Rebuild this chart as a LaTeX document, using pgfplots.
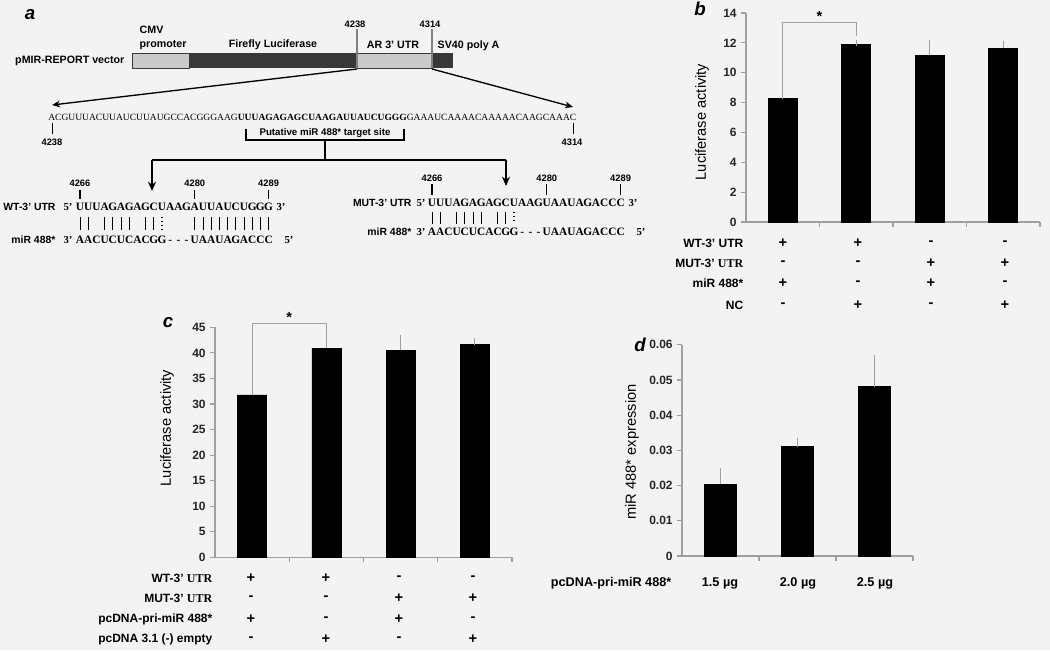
\documentclass[border=0pt]{standalone}
\usepackage{pgfplots}
\usepackage{pgfplotstable}
\pgfplotsset{compat=1.18}
\usepackage{fontspec}
\setmainfont{Liberation Sans}
\newfontfamily\serif{Liberation Serif}
\usetikzlibrary{arrows.meta}
\definecolor{bg}{HTML}{F3F3F3}
\definecolor{axgray}{HTML}{A0A0A0}
\definecolor{lightseg}{HTML}{CACACA}
\definecolor{darkseg}{HTML}{383838}
\newcommand{\fs}[1]{\fontsize{#1}{#1}\selectfont}

\pgfplotstableread{
x y e
0 8.30 0.14
1 11.92 0.08
2 11.18 0.78
3 11.63 0.29
}\bdata
\pgfplotstableread{
x y e
0 31.8 2.5
1 40.9 1.1
2 40.5 2.3
3 41.6 0.7
}\cdata
\pgfplotstableread{
x y e
0 0.0204 0.0036
1 0.0311 0.0016
2 0.0481 0.0080
}\ddata

\pgfplotsset{
 panel/.style={scale only axis, anchor=south west, clip=false,
   axis x line*=bottom, axis y line*=left,
   axis line style={axgray, line width=1pt},
   tick align=outside, major tick length=3.5pt,
   tick style={axgray, line width=0.8pt},
   xticklabels={}, scaled y ticks=false,
   yticklabel style={font=\bfseries\fs{9}, text=black!85},
   ybar},
 bars/.style={fill=black, draw=black,
   error bars/.cd, y dir=plus, y explicit,
   error bar style={axgray, line width=0.9pt},
   error mark options={axgray, line width=0.9pt, mark size=2.4pt}},
}

\newcommand{\seqrow}[4]{%
  \foreach \ch [count=\i from 0] in {#4} {\node[font=\serif\bfseries\fs{8.5}, inner sep=0, anchor=base] at ({#1+\i*#3},{#2+3.2}) {\ch};}}

\begin{document}
\begin{tikzpicture}[x=0.75pt,y=0.75pt]
\useasboundingbox (0,0) rectangle (1050,650);
\fill[bg] (0,0) rectangle (1050,650);

% ---------------- panel b ----------------
\begin{axis}[panel, at={(559.5pt,321pt)}, width=220.5pt, height=156.75pt,
  xmin=-0.5, xmax=3.5, ymin=0, ymax=14, bar width=21.75pt,
  xtick={0.5,1.5,2.5,3.5},
  ytick={0,2,4,6,8,10,12,14}, yticklabels={0,2,4,6,8,10,12,14}]
\addplot[bars] table[x=x,y=y,y error=e]{\bdata};
\draw[axgray, line width=0.9pt] (axis cs:0,8.4) -- (axis cs:0,13.37) -- (axis cs:1,13.37) -- (axis cs:1,12.45);
\node[font=\bfseries\fs{11}] at (axis cs:0.5,13.75) {*};
\end{axis}

% ---------------- panel c ----------------
\begin{axis}[panel, at={(161.25pt,69.5pt)}, width=222.75pt, height=172.5pt,
  xmin=-0.5, xmax=3.5, ymin=0, ymax=45, bar width=21.75pt,
  xtick={0.5,1.5,2.5,3.5},
  ytick={0,5,10,15,20,25,30,35,40,45}, yticklabels={0,5,10,15,20,25,30,35,40,45}]
\addplot[bars] table[x=x,y=y,y error=e]{\cdata};
\draw[axgray, line width=0.9pt] (axis cs:0,34.3) -- (axis cs:0,45.7) -- (axis cs:1,45.7) -- (axis cs:1,42.1);
\node[font=\bfseries\fs{11}] at (axis cs:0.5,47.0) {*};
\end{axis}

% ---------------- panel d ----------------
\begin{axis}[panel, at={(511.5pt,70.5pt)}, width=173.25pt, height=158.4pt,
  xmin=-0.5, xmax=2.5, ymin=0, ymax=0.06, bar width=24pt,
  xtick={0.5,1.5,2.5},
  ytick={0,0.01,0.02,0.03,0.04,0.05,0.06}, yticklabels={0,0.01,0.02,0.03,0.04,0.05,0.06}]
\addplot[bars] table[x=x,y=y,y error=e]{\ddata};
\end{axis}

\begin{scope}[shift={(0,650)}, yscale=-1]
% panel letters
\node[font=\bfseries\itshape\fs{14}] at (30,15) {a};
\node[font=\bfseries\itshape\fs{14}] at (700,9) {b};
\node[font=\bfseries\itshape\fs{14}] at (168,323) {c};
\node[font=\bfseries\itshape\fs{14}] at (640,345) {d};

% axis titles
\node[rotate=90, font=\fs{11}] at (702,122) {Luciferase activity};
\node[rotate=90, font=\fs{11}] at (167,428) {Luciferase activity};
\node[rotate=90, font=\fs{11}] at (632,452) {miR 488* expression};

% panel b table
\begin{scope}[every node/.style={font=\bfseries\fs{9}}]
\node[anchor=east] at (748,243) {WT-3’ UTR};
\node[anchor=east] at (748,263) {MUT-3’ {\serif UTR}};
\node[anchor=east] at (748,283) {miR 488*};
\node[anchor=east] at (748,305) {NC};
\end{scope}
\begin{scope}[every node/.style={font=\bfseries\fs{11}}]
\foreach \x/\a/\b/\c/\d in {783/+/-/+/-, 858/+/-/-/+, 931/-/+/+/-, 1005/-/+/-/+}{
  \node at (\x,243) {\a}; \node at (\x,263) {\b}; \node at (\x,283) {\c}; \node at (\x,305) {\d};}
\end{scope}

% panel c table
\begin{scope}[every node/.style={font=\bfseries\fs{9}}]
\node[anchor=east] at (217,578) {WT-3’ {\serif UTR}};
\node[anchor=east] at (217,598) {MUT-3’ {\serif UTR}};
\node[anchor=east] at (217,619) {pcDNA-pri-miR 488*};
\node[anchor=east] at (217,639) {pcDNA 3.1 (-) empty};
\end{scope}
\begin{scope}[every node/.style={font=\bfseries\fs{11}}]
\foreach \x/\a/\b/\c/\d in {251/+/-/+/-, 326/+/-/-/+, 399/-/+/+/-, 473/-/+/-/+}{
  \node at (\x,578) {\a}; \node at (\x,598) {\b}; \node at (\x,619) {\c}; \node at (\x,639) {\d};}
\end{scope}

% panel d labels
\begin{scope}[every node/.style={font=\bfseries\fs{9.5}}]
\node[anchor=east] at (676,583) {pcDNA-pri-miR 488*};
\node at (720,583) {1.5 µg};
\node at (798,583) {2.0 µg};
\node at (875,583) {2.5 µg};
\end{scope}

% ---------------- panel a ----------------
\draw[darkseg, fill=lightseg, line width=0.6pt] (132,53) rectangle (189,68);
\fill[darkseg] (189,53) rectangle (357,68);
\draw[darkseg, fill=lightseg, line width=0.6pt] (357,53) rectangle (432,68);
\fill[darkseg] (432,53) rectangle (453,68);
\draw[gray, line width=0.8pt] (357,29) -- (357,68);
\draw[gray, line width=0.8pt] (432,29) -- (432,68);
\begin{scope}[every node/.style={font=\bfseries\fs{8}}]
\node[anchor=east] at (129,61) {pMIR-REPORT vector};
\node[anchor=west] at (135,30) {CMV};
\node[anchor=west] at (135,45) {promoter};
\node at (273,45) {Firefly Luciferase};
\node at (393,45) {AR 3’ UTR};
\node[anchor=west] at (433,46) {SV40 poly A};
\node[font=\bfseries\fs{7}] at (355,24) {4238};
\node[font=\bfseries\fs{7}] at (430,24) {4314};
\end{scope}
\draw[-{Stealth[length=6pt,width=5pt]}, line width=1pt] (357,69) -- (52,105);
\draw[-{Stealth[length=6pt,width=5pt]}, line width=1pt] (432,69) -- (573,107);

% full sequence
\node[anchor=west, inner sep=0] at (48,117) {\resizebox{396pt}{!}{\serif ACGUUUACUUAUCUUAUGCCACGGGAAG\textbf{UUUAGAGAGCUAAGAUUAUCUGGG}GAAAUCAAAACAAAAACAAGCAAAC}};
\draw[line width=0.7pt] (52,123) -- (52,134);
\draw[line width=0.7pt] (573,123) -- (573,134);
\node[font=\bfseries\fs{7}] at (52,142) {4238};
\node[font=\bfseries\fs{7}] at (572,142) {4314};

% target site bracket
\draw[line width=0.9pt] (246,129) -- (246,140) -- (404,140) -- (404,129);
\node[font=\bfseries\fs{7.3}] at (325,133) {Putative miR 488* target site};
\draw[line width=0.9pt] (325,140) -- (325,160);
\draw[line width=0.9pt] (152,160) -- (506,160);
\draw[-{Stealth[length=7pt,width=6pt]}, line width=1pt] (152,160) -- (152,191);
\draw[-{Stealth[length=7pt,width=6pt]}, line width=1pt] (506,160) -- (506,186);

% WT block
\begin{scope}[every node/.style={font=\bfseries\fs{7}}]
\node at (80,183) {4266}; \node at (194.8,183) {4280}; \node at (268.6,183) {4289};
\end{scope}
\foreach \p in {80,194.8,268.6} \draw[line width=0.9pt] (\p,190) -- (\p,199);
\node[anchor=east, font=\bfseries\fs{7.8}, inner sep=1pt] at (57,207) {WT-3’ UTR};
\node[font=\serif\bfseries\fs{8}] at (68,207) {5’};
\seqrow{80}{207}{8.2}{U,U,U,A,G,A,G,A,G,C,U,A,A,G,A,U,U,A,U,C,U,G,G,G}
\node[font=\serif\bfseries\fs{8}] at (281,207) {3’};
\foreach \i in {0,1,3,4,5,6,8,9,14,15,16,17,18,19,20,21,22,23} \draw[line width=0.7pt] ({80+\i*8.2},217) -- ({80+\i*8.2},230);
\draw[line width=1pt, dotted] ({80+10*8.2},217) -- ({80+10*8.2},230);
\node[anchor=east, font=\bfseries\fs{7.8}, inner sep=1pt] at (57,240) {miR 488*};
\node[font=\serif\bfseries\fs{8}] at (68,240) {3’};
\seqrow{80}{240}{8.2}{A,A,C,U,C,U,C,A,C,G,G,-,-,-,U,A,A,U,A,G,A,C,C,C}
\node[font=\serif\bfseries\fs{8}] at (289,240) {5’};

% MUT block
\begin{scope}[every node/.style={font=\bfseries\fs{7}}]
\node at (432,178) {4266}; \node at (546.8,178) {4280}; \node at (620.6,178) {4289};
\end{scope}
\foreach \p in {432,546.8,620.6} \draw[line width=0.9pt] (\p,184) -- (\p,195);
\node[anchor=east, font=\bfseries\fs{7.8}, inner sep=1pt] at (413,203) {MUT-3’ UTR};
\node[font=\serif\bfseries\fs{8}] at (421,203) {5’};
\seqrow{432}{203}{8.2}{U,U,U,A,G,A,G,A,G,C,U,A,A,G,U,A,A,U,A,G,A,C,C,C}
\node[font=\serif\bfseries\fs{8}] at (633,203) {3’};
\foreach \i in {0,1,3,4,5,6,8,9} \draw[line width=0.7pt] ({432+\i*8.2},212) -- ({432+\i*8.2},224);
\draw[line width=1pt, dotted] ({432+10*8.2},212) -- ({432+10*8.2},224);
\node[anchor=east, font=\bfseries\fs{7.8}, inner sep=1pt] at (413,232) {miR 488*};
\node[font=\serif\bfseries\fs{8}] at (421,232) {3’};
\seqrow{432}{232}{8.2}{A,A,C,U,C,U,C,A,C,G,G,-,-,-,U,A,A,U,A,G,A,C,C,C}
\node[font=\serif\bfseries\fs{8}] at (641,232) {5’};
\end{scope}
\end{tikzpicture}
\end{document}
